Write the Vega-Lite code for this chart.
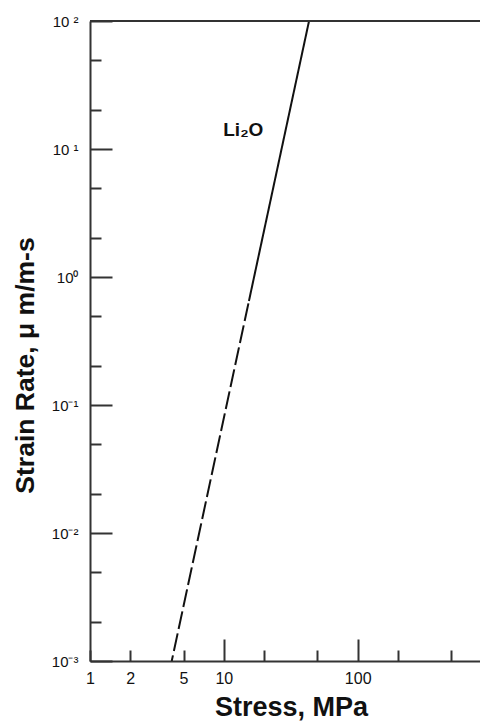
{
  "$schema": "https://vega.github.io/schema/vega-lite/v6.json",
  "width": 390,
  "height": 640,
  "autosize": "none",
  "padding": {"left": 90, "top": 21, "right": 0, "bottom": 60},
  "background": "white",
  "view": {"stroke": null},
  "config": {
    "font": "Liberation Sans",
    "axis": {
      "grid": false,
      "domainColor": "#333333",
      "domainWidth": 2,
      "tickColor": "#333333",
      "tickWidth": 2,
      "tickSize": -22,
      "labelColor": "#111111",
      "labelFont": "Liberation Sans",
      "labelFlush": false,
      "labelOverlap": false,
      "titleColor": "#111111",
      "titleFont": "Liberation Sans",
      "titleFontWeight": "bold"
    }
  },
  "datasets": {
    "creep": [
      {"part": "measured", "stress": 43.3, "rate": 100},
      {"part": "measured", "stress": 15.4, "rate": 0.65},
      {"part": "extrapolated", "stress": 15.4, "rate": 0.65},
      {"part": "extrapolated", "stress": 4.08, "rate": 0.001}
    ],
    "names": [
      {"stress": 9.9, "rate": 14.1, "name": "Li₂O"}
    ]
  },
  "layer": [
    {
      "data": {"name": "creep"},
      "mark": {"type": "line", "color": "#111111", "strokeWidth": 2, "strokeDashOffset": 20, "clip": true},
      "encoding": {
        "x": {
          "field": "stress",
          "type": "quantitative",
          "scale": {"type": "log", "domain": [1, 820], "nice": false},
          "axis": {
            "orient": "bottom",
            "values": [1, 2, 5, 10, 20, 50, 100, 200, 500],
            "labelExpr": "indexof([1, 2, 5, 10, 100], datum.value) >= 0 ? format(datum.value, 'd') : ''",
            "tickDash": {"condition": {"test": "datum.value == 10 || datum.value == 100", "value": [1, 0]}, "value": [11, 40]},
            "labelPadding": 31,
            "labelFontSize": 16,
            "title": "Stress, MPa",
            "titleFontSize": 27,
            "titleX": 201,
            "titleY": 54,
            "titleBaseline": "alphabetic",
            "titleAlign": "center"
          }
        },
        "y": {
          "field": "rate",
          "type": "quantitative",
          "scale": {"type": "log", "domain": [0.001, 100], "nice": false},
          "axis": {
            "orient": "left",
            "values": [0.001, 0.002, 0.005, 0.01, 0.02, 0.05, 0.1, 0.2, 0.5, 1, 2, 5, 10, 20, 50, 100],
            "labelExpr": "datum.value == 100 ? '10 ²' : datum.value == 10 ? '10 ¹' : datum.value == 1 ? '10⁰' : datum.value == 0.1 ? '10⁻¹' : datum.value == 0.01 ? '10⁻²' : datum.value == 0.001 ? '10⁻³' : ''",
            "tickDash": {"condition": {"test": "indexof([0.001, 0.01, 0.1, 1, 10, 100], datum.value) >= 0", "value": [1, 0]}, "value": [11, 40]},
            "labelPadding": 34,
            "labelFontSize": 15,
            "title": "Strain Rate,  μ m/m-s",
            "titleFontSize": 26.5,
            "titleAngle": -90,
            "titleX": -57,
            "titleY": 344,
            "titleBaseline": "alphabetic",
            "titleAlign": "center"
          }
        },
        "detail": {"field": "part"},
        "order": {"field": "rate", "sort": "descending"},
        "strokeDash": {
          "field": "part",
          "type": "nominal",
          "scale": {"domain": ["measured", "extrapolated"], "range": [[1, 0], [18, 4.5]]},
          "legend": null
        }
      }
    },
    {
      "data": {"values": [{}]},
      "mark": {"type": "rule", "color": "#333333", "strokeWidth": 2},
      "encoding": {"y": {"datum": 100}}
    },
    {
      "data": {"name": "names"},
      "mark": {"type": "text", "align": "left", "baseline": "middle", "fontSize": 19, "fontWeight": "bold", "color": "#111111"},
      "encoding": {
        "x": {"field": "stress", "type": "quantitative"},
        "y": {"field": "rate", "type": "quantitative"},
        "text": {"field": "name"}
      }
    }
  ]
}
